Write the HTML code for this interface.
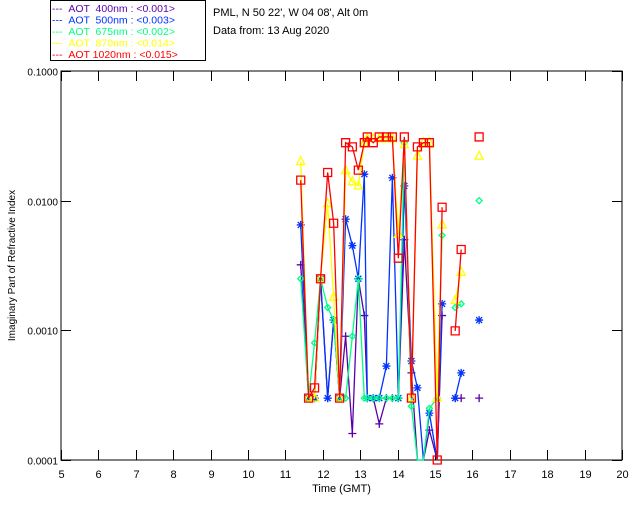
<!DOCTYPE html>
<html><head><meta charset="utf-8">
<style>
body{margin:0;background:#fff;}
svg text{font-family:"Liberation Sans",sans-serif;}
</style></head>
<body>
<svg id="chart" width="640" height="512" viewBox="0 0 640 512">
<rect x="0" y="0" width="640" height="512" fill="#fff"/>
<g>
<rect x="50.5" y="0.5" width="155" height="60" fill="none" stroke="#000"/>
<text x="52" y="12" font-size="10.5" fill="#5b00a8">--- &#160;AOT &#160;400nm : &lt;0.001&gt;</text>
<text x="52" y="23.5" font-size="10.5" fill="#0033ff">--- &#160;AOT &#160;500nm : &lt;0.003&gt;</text>
<text x="52" y="35" font-size="10.5" fill="#00ff88">--- &#160;AOT &#160;675nm : &lt;0.002&gt;</text>
<text x="52" y="46.5" font-size="10.5" fill="#ffff00">--- &#160;AOT &#160;870nm : &lt;0.014&gt;</text>
<text x="52" y="58" font-size="10.5" fill="#ff0000">--- &#160;AOT 1020nm : &lt;0.015&gt;</text>
</g>
<text x="213" y="16" font-size="11">PML, N 50 22', W 04 08', Alt 0m</text>
<text x="213" y="34" font-size="11">Data from: 13 Aug 2020</text>
<g id="axes"></g>
<g id="series"></g>
</svg>
<script>
const times=[11.41,11.62,11.78,11.94,12.13,12.29,12.45,12.61,12.79,12.95,13.11,13.19,13.35,13.51,13.70,13.86,14.02,14.18,14.37,14.53,14.69,14.85,15.06,15.19,15.54,15.70,16.18];
const v1020=[0.0144,0.0003,0.00036,0.0025,0.0165,0.0067,0.0003,0.028,0.026,0.0172,0.028,0.031,0.028,0.031,0.031,0.031,0.0036,0.031,0.0003,0.026,0.028,0.028,0.0001,0.0089,0.00099,0.0042,0.031];
const v870=[0.02,0.0003,0.0003,0.0025,0.0095,0.0018,0.0003,0.017,0.014,0.013,0.028,0.03,0.03,0.03,0.03,0.03,0.0055,0.027,0.0003,0.022,0.028,0.028,0.0003,0.0065,0.0017,0.0028,0.022];
const v675=[0.0025,0.0003,0.0008,0.0025,0.0015,0.0012,0.0003,0.0003,0.0009,0.0025,0.0003,0.0003,0.0003,0.0003,0.0003,0.0003,0.0003,0.028,0.00026,0.00008,0.00008,0.00025,0.0003,0.0054,0.0015,0.0016,0.01];
const v500=[0.0065,0.0003,0.0003,0.0025,0.0003,0.0012,0.0003,0.0072,0.0045,0.0025,0.016,0.0003,0.0003,0.0003,0.00053,0.015,0.0003,0.013,0.00058,0.00036,0.00008,0.00023,0.00009,0.0016,0.0003,0.00047,0.0012];
const v400=[0.0032,0.0003,0.0003,0.0025,0.0003,0.0012,0.0003,0.0009,0.00016,0.0025,0.0013,0.0003,0.0003,0.00019,0.0003,0.0003,0.0003,0.005,0.00047,0.00008,0.00008,0.00017,0.00008,0.0013,0.0003,0.0003,0.0003];
const xTicks=[5,6,7,8,9,10,11,12,13,14,15,16,17,18,19,20];
const yTicks=[0.0001,0.001,0.01,0.1];
const yTickLabels=["0.0001","0.0010","0.0100","0.1000"];

const L=61,R=622,T=71,B=460;
const NS="http://www.w3.org/2000/svg";
function xs(t){return L+(t-5)/15*(R-L);}
function ys(v){const c=Math.max(v,0.0001);return B-(Math.log10(c)+4)/3*(B-T);}
function mk(tag,attrs,parent){const e=document.createElementNS(NS,tag);for(const k in attrs)e.setAttribute(k,attrs[k]);parent.appendChild(e);return e;}
const ax=document.getElementById('axes');
const frame=mk('rect',{x:L,y:T,width:R-L,height:B-T,fill:'none',stroke:'#000'},ax);


xTicks.forEach(t=>{
  const x=Math.round(xs(t))+0.5;
  const tk=mk('path',{d:`M${x} ${B}V${B-10}M${x} ${T}V${T+10}`,stroke:'#000'},ax);
  
  
  const lb=mk('text',{x:x,y:B+18,'font-size':11,'text-anchor':'middle'},ax);
  lb.textContent=t;
  
  
});
yTicks.forEach((v,i)=>{
  const y=Math.round(ys(v))+0.5;
  const tk=mk('path',{d:`M${L} ${y}H${L+10}M${R} ${y}H${R-10}`,stroke:'#000'},ax);
  
  
  const lb=mk('text',{x:L-3,y:y+4,'font-size':10,'text-anchor':'end'},ax);
  lb.textContent=yTickLabels[i];
  
  
});
const xt=mk('text',{x:(L+R)/2,y:492,'font-size':11,'text-anchor':'middle'},ax);
xt.textContent='Time (GMT)';


const yt=mk('text',{x:0,y:0,'font-size':10,'text-anchor':'middle',transform:`translate(15,${(T+B)/2}) rotate(-90)`},ax);
yt.textContent='Imaginary Part of Refractive Index';



const sg=document.getElementById('series');
const series=[
 {name:'aot-400',vals:v400,color:'#5b00a8',m:'plus'},
 {name:'aot-500',vals:v500,color:'#0033ff',m:'star'},
 {name:'aot-675',vals:v675,color:'#00ff88',m:'diamond'},
 {name:'aot-870',vals:v870,color:'#ffff00',m:'tri'},
 {name:'aot-1020',vals:v1020,color:'#ff0000',m:'square'}
];
function marker(type,x,y){
  if(type==='plus')return `M${x-4} ${y}H${x+4}M${x} ${y-4}V${y+4}`;
  if(type==='star')return `M${x-4} ${y}H${x+4}M${x} ${y-4}V${y+4}M${x-3} ${y-3}L${x+3} ${y+3}M${x-3} ${y+3}L${x+3} ${y-3}`;
  if(type==='diamond')return `M${x} ${y-3}L${x+3} ${y}L${x} ${y+3}L${x-3} ${y}Z`;
  if(type==='tri')return `M${x} ${y-5}L${x+4} ${y+3}L${x-4} ${y+3}Z`;
  return `M${x-4} ${y-4}H${x+4}V${y+4}H${x-4}Z`;
}
series.forEach(s=>{
  const g=mk('g',{},sg);
  
  
  let d='';
  for(let i=0;i<times.length;i++){
    const x=xs(times[i]),y=ys(s.vals[i]);
    if(i>0&&times[i]-times[i-1]<0.3)d+=`L${x} ${y}`;else d+=`M${x} ${y}`;
  }
  const ln=mk('path',{d:d,fill:'none',stroke:s.color,'stroke-width':1.3},g);
  
  
  times.forEach((t,i)=>{
    if(s.vals[i]<0.0001)return;
    const p=mk('path',{d:marker(s.m,xs(t),ys(s.vals[i])),fill:'none',stroke:s.color,'stroke-width':1.3},g);
    
    
  });
});
</script>
</body></html>
